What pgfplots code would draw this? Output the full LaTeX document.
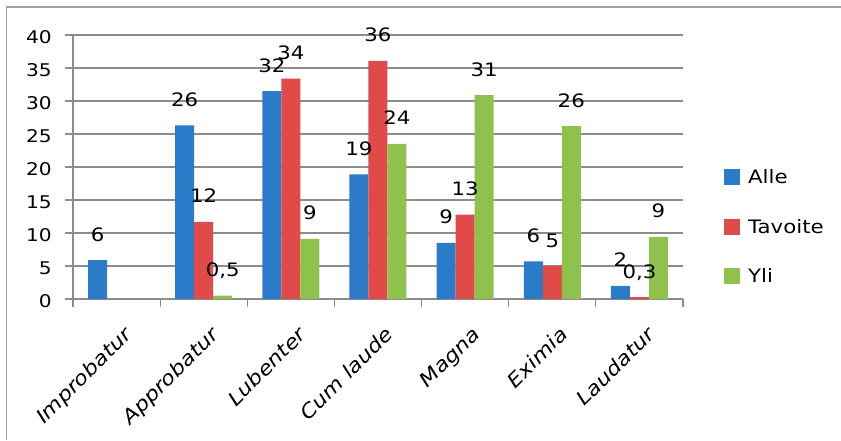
\documentclass[border=0pt]{standalone}
\usepackage{fontspec}
\setmainfont{DejaVu Sans}[FakeStretch=1.15]
\usepackage{pgfplots}
\pgfplotsset{compat=1.18}
\definecolor{cA}{RGB}{42,124,200}
\definecolor{cT}{RGB}{224,74,72}
\definecolor{cY}{RGB}{143,194,76}
\definecolor{gridc}{RGB}{140,140,140}
\begin{document}
\begin{tikzpicture}[x=1pt,y=1pt]
\path[use as bounding box] (0,-440) rectangle (841,0);
\draw[gridc!80, line width=1.2pt] (6.5,-440) -- (6.5,-7) -- (841,-7);
\begin{axis}[
  at={(73pt,-299pt)}, anchor=south west,
  scale only axis, width=610pt, height=264pt,
  xmin=-0.5, xmax=6.5, ymin=0, ymax=40,
  ybar=0pt, bar width=19pt,
  axis lines*=left,
  axis line style={gridc, line width=1.2pt},
  ytick={0,5,...,40},
  ymajorgrids, grid style={gridc, line width=1.2pt},
  xtick={-0.5,0.5,...,6.5}, xticklabels={},
  extra x ticks={0,1,2,3,4,5,6},
  extra x tick labels={Improbatur,Approbatur,Lubenter,Cum laude,Magna,Eximia,Laudatur},
  extra x tick style={major tick length=0pt},
  tick align=outside, major tick length=8pt,
  tick style={gridc, line width=1.2pt},
  /pgf/number format/assume math mode=true,
  yticklabel style={font=\fontsize{17.5}{20}\selectfont, anchor=east, inner sep=0pt, xshift=-13pt, yshift=-2pt},
  xticklabel style={font=\fontsize{19.5}{22}\selectfont\itshape, xshift=6pt, yshift=-26pt, rotate=45, anchor=north east, inner sep=0pt},
  nodes near coords,
  point meta=explicit symbolic,
  every node near coord/.append style={font=\fontsize{18.5}{21}\selectfont, anchor=base, yshift=19pt, inner sep=0pt, text=black},
  every axis plot post/.append style={legend image code/.code={\fill[##1] (0pt,-8pt) rectangle (16pt,8pt);}},
  legend style={draw=none, fill=none, at={(1,0.273)}, anchor=west, xshift=41pt,
    font=\fontsize{18.5}{21}\selectfont, row sep=30pt, inner sep=0pt,
    nodes={inner xsep=8pt}},
  legend cell align=left,
]
\addplot[fill=cA, draw=none] coordinates {(0,5.9)[6] (1,26.3)[26] (2,31.5)[32] (3,18.9)[19] (4,8.5)[9] (5,5.7)[6] (6,2.0)[2]};
\addplot[fill=cT, draw=none] coordinates {(1,11.7)[12] (2,33.4)[34] (3,36.1)[36] (4,12.8)[13] (5,5.0)[5] (6,0.3)[{0,3}]};
\addplot[fill=cY, draw=none] coordinates {(1,0.5)[{0,5}] (2,9.1)[9] (3,23.5)[24] (4,30.9)[31] (5,26.2)[26] (6,9.4)[9]};
\legend{Alle,Tavoite,Yli}
\end{axis}
\end{tikzpicture}
\end{document}
